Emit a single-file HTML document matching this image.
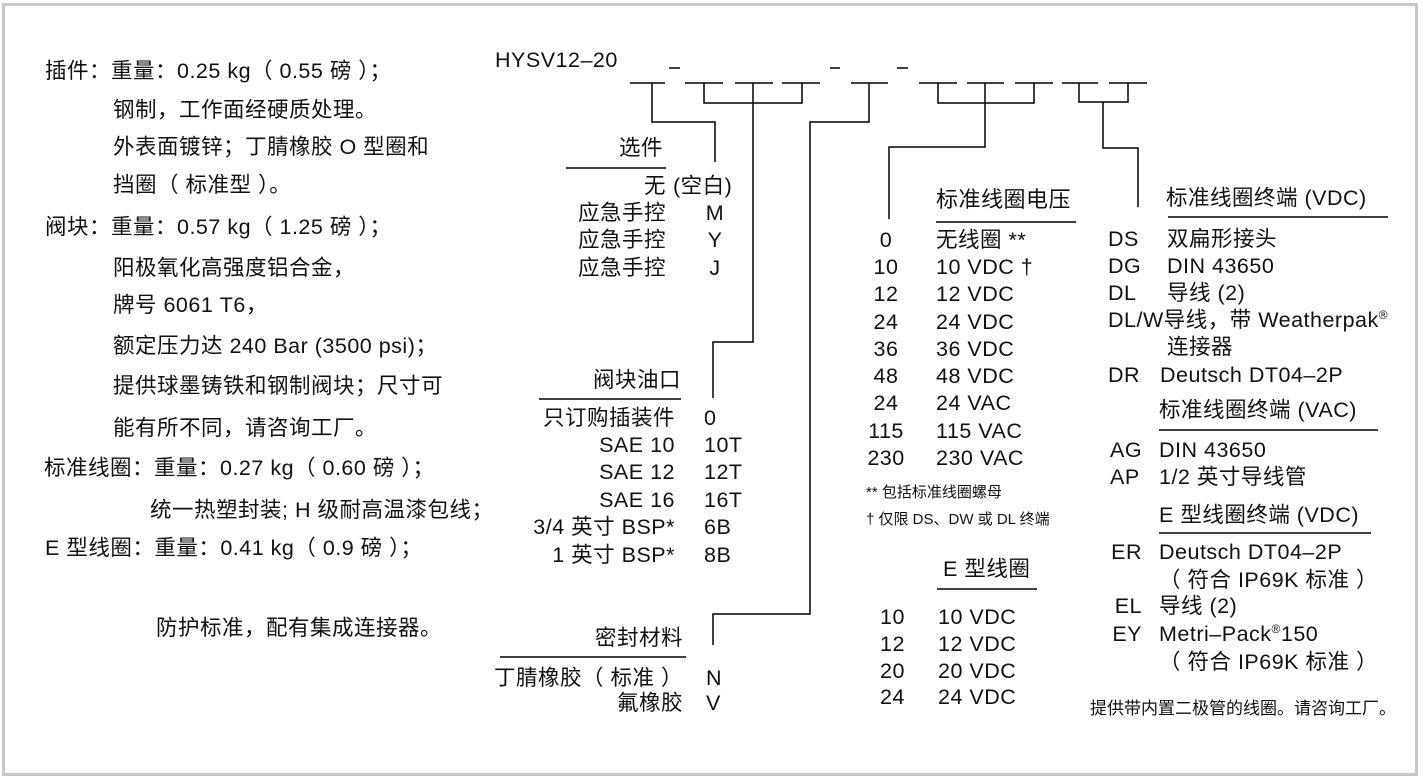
<!DOCTYPE html>
<html><head><meta charset="utf-8">
<style>
html,body{margin:0;padding:0;background:#fff;}
body{width:1423px;height:782px;position:relative;overflow:hidden;font-family:"Liberation Sans","Noto Sans CJK SC",sans-serif;color:#111;}
.t{position:absolute;font-size:21.5px;letter-spacing:0.5px;line-height:24px;white-space:nowrap;}
.r{text-align:right;}
.c{text-align:center;}
.s{font-size:15px;line-height:18px;letter-spacing:0;}
.frame{position:absolute;left:2px;top:3px;width:1410px;height:767px;border:3px solid #c8c8c8;}
sup{font-size:12px;vertical-align:8px;line-height:0;}
</style></head><body>
<div class="frame"></div>
<svg width="1423" height="782" style="position:absolute;left:0;top:0" fill="none" stroke="#000" stroke-width="1.5">
<path d="M669 68H680M830 68H840M897 68H908"/>
<path d="M630 83H665M685 83H723M735 83H773M782 83H820M851 83H888M919 83H957M967 83H1004M1015 83H1053M1062 83H1098M1109 83H1147"/>
<path d="M652 83V122H715V162"/>
<path d="M704 83V103H802V83M753 83V342H713V398"/>
<path d="M869 83V122H810V614H713V645"/>
<path d="M938 83V103H1034V83M985 83V147H889V219"/>
<path d="M1079 83V102H1128V83M1103 102V148H1138V207"/>
<path d="M566 168H666M539 399H681M500 657H686M936 222H1076M937 589H1037M1168 217H1388M1159 430H1378M1159 533H1371"/>
</svg>

<div class="t" style="left:45px;top:59px">插件：重量：0.25 kg（ 0.55 磅 ）；</div>
<div class="t" style="left:113px;top:98px">钢制，工作面经硬质处理。</div>
<div class="t" style="left:113px;top:135px">外表面镀锌；丁腈橡胶 O 型圈和</div>
<div class="t" style="left:113px;top:173px">挡圈（ 标准型 ）。</div>
<div class="t" style="left:45px;top:215px">阀块：重量：0.57 kg（ 1.25 磅 ）；</div>
<div class="t" style="left:113px;top:256px">阳极氧化高强度铝合金，</div>
<div class="t" style="left:113px;top:293px">牌号 6061 T6，</div>
<div class="t" style="left:113px;top:334px">额定压力达 240 Bar (3500 psi)；</div>
<div class="t" style="left:113px;top:374px">提供球墨铸铁和钢制阀块；尺寸可</div>
<div class="t" style="left:113px;top:416px">能有所不同，请咨询工厂。</div>
<div class="t" style="left:44px;top:456px">标准线圈：重量：0.27 kg（  0.60 磅 ）；</div>
<div class="t" style="left:150px;top:498px">统一热塑封装; H 级耐高温漆包线；</div>
<div class="t" style="left:45px;top:536px">E 型线圈：重量：0.41 kg（ 0.9 磅 ）；</div>
<div class="t" style="left:156px;top:616px">防护标准，配有集成连接器。</div>

<div class="t" style="left:495px;top:48px">HYSV12–20</div>

<div class="t r" style="right:760px;top:136px">选件</div>
<div class="t r" style="right:757px;top:174px">无</div>
<div class="t" style="left:673px;top:174px">(空白)</div>
<div class="t r" style="right:757px;top:201px">应急手控</div>
<div class="t r" style="right:757px;top:228px">应急手控</div>
<div class="t r" style="right:757px;top:256px">应急手控</div>
<div class="t c" style="left:695px;width:40px;top:201px">M</div>
<div class="t c" style="left:695px;width:40px;top:228px">Y</div>
<div class="t c" style="left:695px;width:40px;top:256px">J</div>

<div class="t r" style="right:742px;top:368px">阀块油口</div>
<div class="t r" style="right:748px;top:406px">只订购插装件</div>
<div class="t r" style="right:748px;top:433px">SAE 10</div>
<div class="t r" style="right:748px;top:460px">SAE 12</div>
<div class="t r" style="right:748px;top:488px">SAE 16</div>
<div class="t r" style="right:748px;top:515px">3/4 英寸 BSP*</div>
<div class="t r" style="right:748px;top:543px">1 英寸 BSP*</div>
<div class="t" style="left:704px;top:406px">0</div>
<div class="t" style="left:704px;top:433px">10T</div>
<div class="t" style="left:704px;top:460px">12T</div>
<div class="t" style="left:704px;top:488px">16T</div>
<div class="t" style="left:704px;top:515px">6B</div>
<div class="t" style="left:704px;top:543px">8B</div>

<div class="t r" style="right:740px;top:626px">密封材料</div>
<div class="t r" style="right:740px;top:666px">丁腈橡胶（ 标准 ）</div>
<div class="t r" style="right:740px;top:691px">氟橡胶</div>
<div class="t" style="left:706px;top:666px">N</div>
<div class="t" style="left:706px;top:691px">V</div>

<div class="t" style="left:936px;top:188px;font-size:22px">标准线圈电压</div>
<div class="t c" style="left:851px;width:70px;top:228px">0</div>
<div class="t c" style="left:851px;width:70px;top:255px">10</div>
<div class="t c" style="left:851px;width:70px;top:282px">12</div>
<div class="t c" style="left:851px;width:70px;top:310px">24</div>
<div class="t c" style="left:851px;width:70px;top:337px">36</div>
<div class="t c" style="left:851px;width:70px;top:364px">48</div>
<div class="t c" style="left:851px;width:70px;top:391px">24</div>
<div class="t c" style="left:851px;width:70px;top:419px">115</div>
<div class="t c" style="left:851px;width:70px;top:446px">230</div>
<div class="t" style="left:936px;top:228px">无线圈 **</div>
<div class="t" style="left:936px;top:255px">10 VDC †</div>
<div class="t" style="left:936px;top:282px">12 VDC</div>
<div class="t" style="left:936px;top:310px">24 VDC</div>
<div class="t" style="left:936px;top:337px">36 VDC</div>
<div class="t" style="left:936px;top:364px">48 VDC</div>
<div class="t" style="left:936px;top:391px">24 VAC</div>
<div class="t" style="left:936px;top:419px">115 VAC</div>
<div class="t" style="left:936px;top:446px">230 VAC</div>
<div class="t s" style="left:866px;top:484px">** 包括标准线圈螺母</div>
<div class="t s" style="left:866px;top:511px">† 仅限 DS、DW 或 DL 终端</div>

<div class="t" style="left:943px;top:557px">E 型线圈</div>
<div class="t" style="left:880px;top:605px">10</div>
<div class="t" style="left:880px;top:632px">12</div>
<div class="t" style="left:880px;top:659px">20</div>
<div class="t" style="left:880px;top:685px">24</div>
<div class="t" style="left:938px;top:605px">10 VDC</div>
<div class="t" style="left:938px;top:632px">12 VDC</div>
<div class="t" style="left:938px;top:659px">20 VDC</div>
<div class="t" style="left:938px;top:685px">24 VDC</div>

<div class="t" style="left:1166px;top:186px">标准线圈终端 (VDC)</div>
<div class="t" style="left:1108px;top:227px">DS</div>
<div class="t" style="left:1108px;top:254px">DG</div>
<div class="t" style="left:1108px;top:281px">DL</div>
<div class="t" style="left:1167px;top:227px">双扁形接头</div>
<div class="t" style="left:1167px;top:254px">DIN 43650</div>
<div class="t" style="left:1167px;top:281px">导线 (2)</div>
<div class="t" style="left:1108px;top:308px">DL/W导线，带 Weatherpak<sup>®</sup></div>
<div class="t" style="left:1167px;top:335px">连接器</div>
<div class="t" style="left:1108px;top:363px">DR</div>
<div class="t" style="left:1160px;top:363px">Deutsch DT04–2P</div>
<div class="t" style="left:1159px;top:398px">标准线圈终端 (VAC)</div>
<div class="t" style="left:1110px;top:438px">AG</div>
<div class="t" style="left:1110px;top:465px">AP</div>
<div class="t" style="left:1159px;top:438px">DIN 43650</div>
<div class="t" style="left:1159px;top:465px">1/2 英寸导线管</div>
<div class="t" style="left:1159px;top:503px">E 型线圈终端 (VDC)</div>
<div class="t r" style="right:281px;top:540px">ER</div>
<div class="t r" style="right:281px;top:594px">EL</div>
<div class="t r" style="right:281px;top:622px">EY</div>
<div class="t" style="left:1159px;top:540px">Deutsch DT04–2P</div>
<div class="t" style="left:1159px;top:568px">（ 符合 IP69K 标准 ）</div>
<div class="t" style="left:1159px;top:594px">导线 (2)</div>
<div class="t" style="left:1159px;top:622px">Metri–Pack<sup>®</sup>150</div>
<div class="t" style="left:1159px;top:650px">（ 符合 IP69K 标准 ）</div>
<div class="t" style="left:1090px;top:699px;font-size:17px;line-height:20px;letter-spacing:0">提供带内置二极管的线圈。请咨询工厂。</div>
</body></html>
